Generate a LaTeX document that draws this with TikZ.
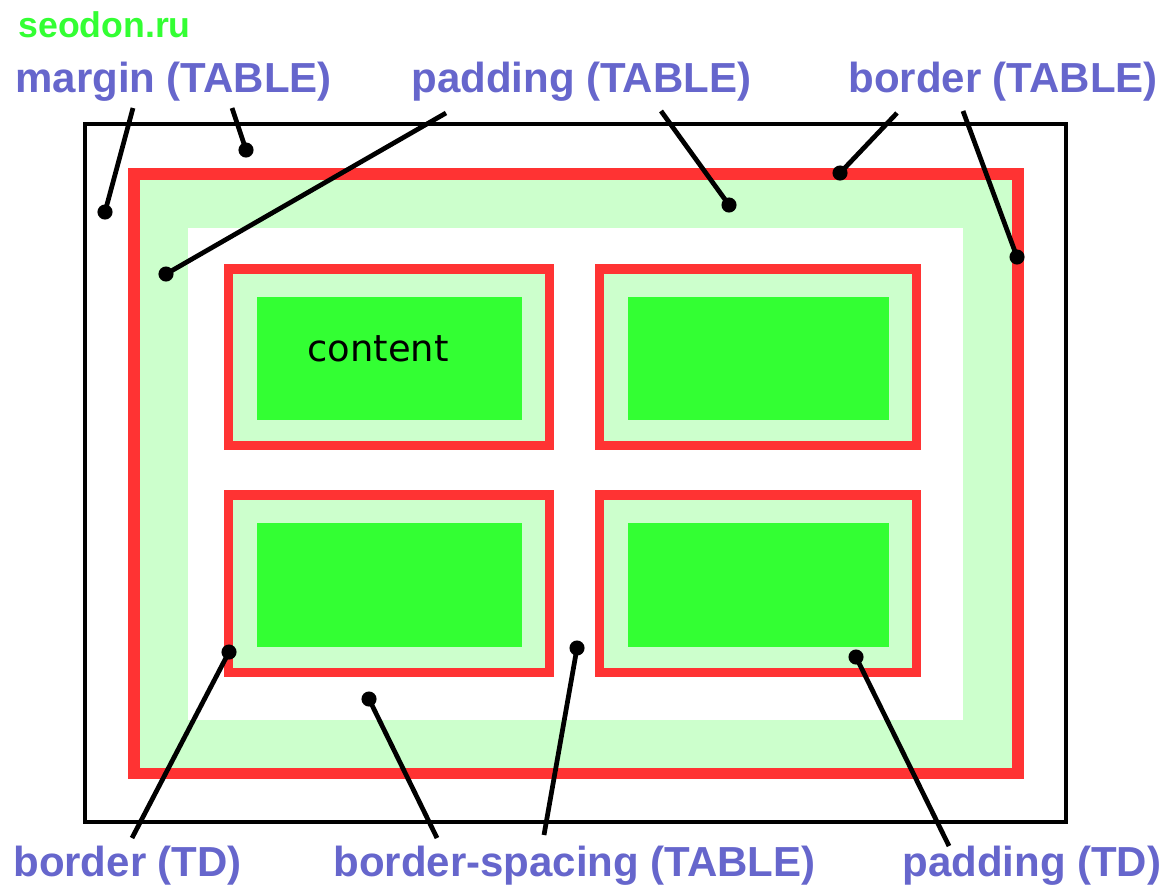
\documentclass[tikz,border=0pt]{standalone}
\usepackage{fontspec}
\setmainfont{Liberation Sans}
\newfontfamily\cellfont{DejaVu Sans}
\usepackage{xcolor}
\definecolor{labelblue}{RGB}{102,102,204}
\definecolor{tblred}{RGB}{255,51,51}
\definecolor{padgreen}{RGB}{204,255,204}
\definecolor{cellgreen}{RGB}{51,255,51}
\tikzset{
  caption/.style={text=labelblue, inner sep=0pt, anchor=base west,
    font=\fontsize{23.9}{28}\selectfont\bfseries},
  leader/.style={line width=2.7pt}
}

\begin{document}
\begin{tikzpicture}[x=0.02cm, y=-0.02cm]
        \useasboundingbox (0,0) rectangle (1163,886);

        % margin box, border, padding and spacing area of the table
        \draw[line width=1.9pt] (85,124) rectangle (1066,822);
        \fill[tblred] (128,168) rectangle (1024,779);
        \fill[padgreen] (140,180) rectangle (1012,768);
        \fill[white] (188,228) rectangle (963,720);

        % the four cells
        \foreach \xa/\ya/\xb/\yb in {224/264/554/450, 595/264/921/450, 224/490/554/677, 595/490/921/677}{
          \fill[tblred] (\xa,\ya) rectangle (\xb,\yb);
          \fill[padgreen] (\xa+9,\ya+10) rectangle (\xb-9,\yb-9);
          \fill[cellgreen] (\xa+33,\ya+33) rectangle (\xb-32,\yb-30);
        }
        \node[anchor=base west, inner sep=0pt, font=\cellfont\fontsize{21}{25}\selectfont] (content) at (307,361) {content};

        \node[anchor=base west, inner sep=0pt, text=cellgreen, font=\fontsize{20.3}{24}\selectfont\bfseries] (site) at (18,37) {seodon.ru};

        \node[caption] (margin) at (15,92) {margin (TABLE)};
        \node[caption] (padtable) at (411,92) {padding (TABLE)};
        \node[caption] (bordertable) at (848,92) {border (TABLE)};
        \node[caption] (bordertd) at (13,876) {border (TD)};
        \node[caption] (spacing) at (333,876) {border-spacing (TABLE)};
        \node[caption] (padtd) at (902,876) {padding (TD)};

        % leader lines: free end under the caption, dot on the part
        \coordinate (mg1-from) at (133,108);  \coordinate (mg1-to) at (105,212);
        \coordinate (mg2-from) at (232,108);  \coordinate (mg2-to) at (246,150);
        \coordinate (pt1-from) at (446,113);  \coordinate (pt1-to) at (166,274);
        \coordinate (pt2-from) at (661,111);  \coordinate (pt2-to) at (729,205);
        \coordinate (bt1-from) at (897,113);  \coordinate (bt1-to) at (840,173);
        \coordinate (bt2-from) at (963,111);  \coordinate (bt2-to) at (1017,257);
        \coordinate (btd-from) at (132,838);  \coordinate (btd-to) at (229,652);
        \coordinate (bs1-from) at (437,838);  \coordinate (bs1-to) at (369,699);
        \coordinate (bs2-from) at (544,835);  \coordinate (bs2-to) at (577,648);
        \coordinate (ptd-from) at (949,846);  \coordinate (ptd-to) at (856,657);

        \foreach \p in {mg1,mg2,pt1,pt2,bt1,bt2,btd,bs1,bs2,ptd}{
          \draw[leader] (\p-from) -- (\p-to);
          \fill (\p-to) circle (4.3pt);
        }
\end{tikzpicture}
\end{document}
